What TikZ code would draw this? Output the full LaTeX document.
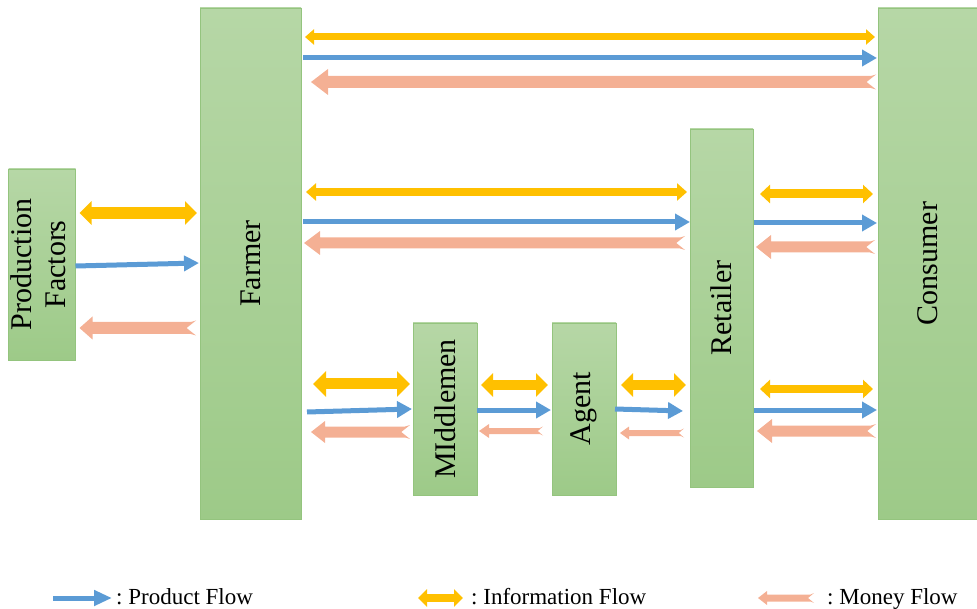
\documentclass[tikz,border=0pt]{standalone}
\usepackage{fontspec}
\setmainfont{Liberation Serif}
\usetikzlibrary{arrows.meta,calc}
\frenchspacing
\definecolor{greentop}{RGB}{182,215,166}
\definecolor{greenbot}{RGB}{157,202,136}
\definecolor{boxline}{RGB}{148,196,126}
\definecolor{infocol}{RGB}{255,192,0}
\definecolor{prodcol}{RGB}{91,155,213}
\definecolor{moneycol}{RGB}{244,176,148}
% #1 tail, #2 head (head to the left), #3 shaft, #4 head width, #5 head length
\newcommand\moneyarrow[5]{%
  \fill[moneycol] let \p1=(#1), \p2=(#2) in
    (\x2,\y2) -- (\x2+#5pt,\y2+0.5*#4pt) -- (\x2+#5pt,\y2+0.5*#3pt)
    -- (\x1-0.35*#3pt,\y2+0.5*#3pt) -- (\x1+1pt,\y2+0.5*#3pt+1.5pt)
    -- (\x1-0.7*#3pt,\y2)
    -- (\x1+1pt,\y2-0.5*#3pt-1.5pt) -- (\x1-0.35*#3pt,\y2-0.5*#3pt)
    -- (\x2+#5pt,\y2-0.5*#3pt) -- (\x2+#5pt,\y2-0.5*#4pt) -- cycle;}
\begin{document}
\begin{tikzpicture}[x=1pt,y=-1pt,
  box/.style={draw=boxline,line width=0.8pt,top color=greentop,bottom color=greenbot,
    inner sep=0pt,outer sep=0pt,font=\fontsize{30}{32}\selectfont},
  info/.style n args={3}{draw=infocol,line width=#1pt,
    arrows={Triangle[length=#3pt,width=#2pt]-Triangle[length=#3pt,width=#2pt]}},
  prod/.style n args={2}{draw=prodcol,line width=5pt,
    arrows={-Triangle[length=#2pt,width=#1pt]}},
  legend/.style={font=\fontsize{23}{26}\selectfont,anchor=base west,inner sep=0pt}]
\useasboundingbox (0,0) rectangle (977,609);

% boxes
\node[box,minimum width=101pt,minimum height=511pt] (farmer) at (250.5,263.5) {\rotatebox{90}{Farmer}};
\node[box,minimum width=99pt,minimum height=511pt] (consumer) at (927.5,263.5) {\rotatebox{90}{Consumer}};
\node[box,minimum width=63pt,minimum height=358pt] (retailer) at (721.5,308) {\rotatebox{90}{Retailer}};
\node[box,minimum width=64pt,minimum height=172pt] (middlemen) at (445,409) {\rotatebox{90}{MIddlemen}};
\node[box,minimum width=64pt,minimum height=172pt] (agent) at (584,409) {\rotatebox{90}{Agent}};
\node[box,minimum width=66pt,minimum height=191pt] (prodf) at (42,264.5)
  {\rotatebox{90}{\fontsize{30}{33}\selectfont\begin{tabular}{@{}c@{}}Production\\[1pt]Factors\end{tabular}}};

% Farmer -> Consumer
\draw[info={7}{15}{9}] ([xshift=4pt]farmer.east |- 0,37) -- ([xshift=-3pt]consumer.west |- 0,37);
\draw[prod={16}{15}] ([xshift=2pt]farmer.east |- 0,58) -- ([xshift=-1pt]consumer.west |- 0,58);
\moneyarrow{[xshift=-3pt]consumer.west |- 0,82}{[xshift=10pt]farmer.east |- 0,82}{12}{26}{17}

% Farmer -> Retailer
\draw[info={8}{17}{10}] ([xshift=5pt]farmer.east |- 0,192) -- ([xshift=-3pt]retailer.west |- 0,192);
\draw[prod={16}{15}] ([xshift=2pt]farmer.east |- 0,222) -- (retailer.west |- 0,222);
\moneyarrow{[xshift=-6pt]retailer.west |- 0,243}{[xshift=3pt]farmer.east |- 0,243}{11}{24}{16}

% Retailer -> Consumer (upper)
\draw[info={9}{18}{10}] ([xshift=7pt]retailer.east |- 0,194) -- ([xshift=-5pt]consumer.west |- 0,194);
\draw[prod={16}{15}] ([xshift=1pt]retailer.east |- 0,223) -- ([xshift=-1pt]consumer.west |- 0,223);
\moneyarrow{[xshift=-4pt]consumer.west |- 0,247}{[xshift=3pt]retailer.east |- 0,247}{11}{24}{15}

% Production Factors -> Farmer
\draw[info={12}{23}{12}] ([xshift=4pt]prodf.east |- 0,213) -- ([xshift=-3pt]farmer.west |- 0,213);
\draw[prod={15}{15}] (prodf.east |- 0,266) -- ([xshift=-1pt]farmer.west |- 0,263);
\moneyarrow{[xshift=-5pt]farmer.west |- 0,328}{[xshift=4pt]prodf.east |- 0,328}{12}{23}{13}

% Farmer -> Middlemen
\draw[info={11}{25}{13}] ([xshift=12pt]farmer.east |- 0,384) -- ([xshift=-3pt]middlemen.west |- 0,384);
\draw[prod={16}{15}] ([xshift=6pt]farmer.east |- 0,412) -- ([xshift=-1pt]middlemen.west |- 0,409);
\moneyarrow{[xshift=-4pt]middlemen.west |- 0,432}{[xshift=10pt]farmer.east |- 0,432}{11}{22}{14}

% Middlemen -> Agent
\draw[info={10}{23}{12}] ([xshift=4pt]middlemen.east |- 0,385) -- ([xshift=-4pt]agent.west |- 0,385);
\draw[prod={16}{15}] (middlemen.east |- 0,410) -- ([xshift=-1pt]agent.west |- 0,410);
\moneyarrow{[xshift=-10pt]agent.west |- 0,431}{[xshift=2pt]middlemen.east |- 0,431}{6}{14}{10}

% Agent -> Retailer
\draw[info={10}{23}{12}] ([xshift=5pt]agent.east |- 0,385) -- ([xshift=-4pt]retailer.west |- 0,385);
\draw[prod={16}{15}] ([xshift=-1pt]agent.east |- 0,409) -- ([xshift=-7pt]retailer.west |- 0,411);
\moneyarrow{[xshift=-7pt]retailer.west |- 0,433}{[xshift=4pt]agent.east |- 0,433}{6}{13}{9}

% Retailer -> Consumer (lower)
\draw[info={8}{18}{10}] ([xshift=7pt]retailer.east |- 0,389) -- ([xshift=-5pt]consumer.west |- 0,389);
\draw[prod={16}{15}] ([xshift=1pt]retailer.east |- 0,410) -- ([xshift=-1pt]consumer.west |- 0,410);
\moneyarrow{[xshift=-3pt]consumer.west |- 0,431}{[xshift=4pt]retailer.east |- 0,431}{11}{24}{15}

% legend
\coordinate (lpa) at (53,598);  \coordinate (lpb) at (112,598);
\coordinate (lia) at (418,598); \coordinate (lib) at (463,598);
\coordinate (lma) at (813,598); \coordinate (lmb) at (758,598);
\draw[prod={15}{18}] (lpa) -- (lpb);
\draw[info={8}{17}{9}] (lia) -- (lib);
\moneyarrow{lma}{lmb}{7}{14}{9}
\node[legend] (lp) at (116,604) {: Product Flow};
\node[legend] (li) at (471,604) {: Information Flow};
\node[legend] (lm) at (827,604) {: Money Flow};
\end{tikzpicture}
\end{document}
